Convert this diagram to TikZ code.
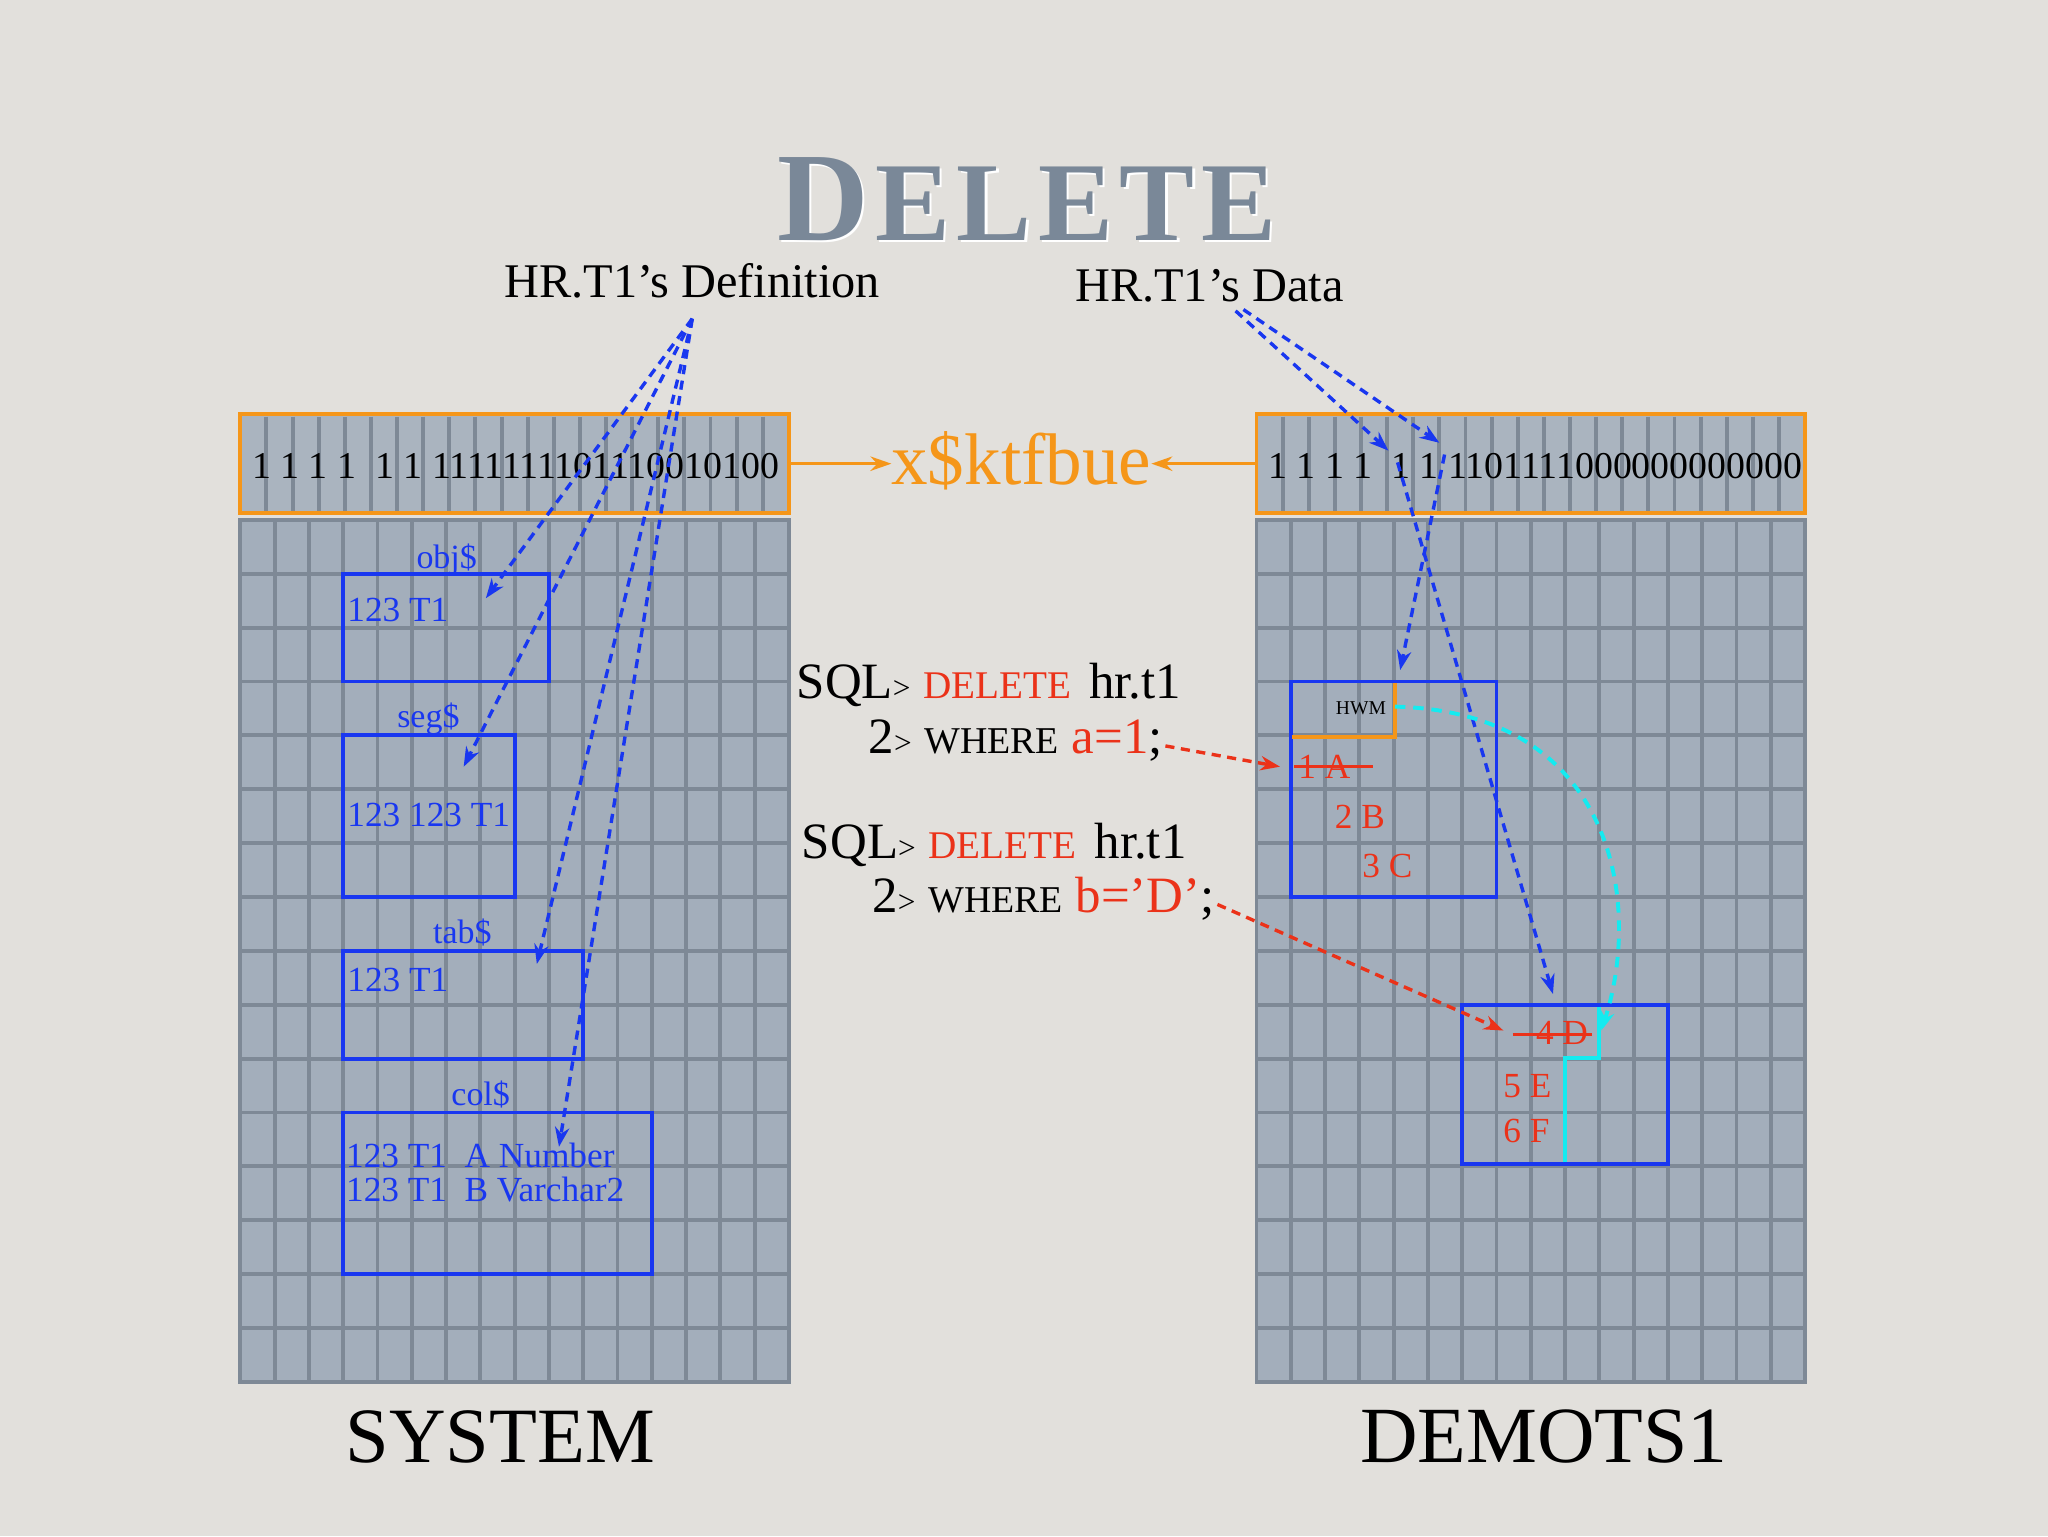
\documentclass[tikz,border=0pt]{standalone}
\usepackage{fontspec}
\setmainfont{Liberation Serif}
\usetikzlibrary{arrows.meta}
\definecolor{bg}{RGB}{226,224,220}
\definecolor{panel}{RGB}{163,174,187}
\definecolor{gridc}{RGB}{126,137,150}
\definecolor{stripc}{RGB}{170,180,191}
\definecolor{orng}{RGB}{245,150,25}
\definecolor{myblue}{RGB}{25,55,240}
\definecolor{myred}{RGB}{235,50,25}
\definecolor{mycyan}{RGB}{20,235,240}
\definecolor{titlec}{RGB}{122,136,152}
\newcommand\myfs[1]{\fontsize{#1}{#1}\selectfont}
\begin{document}
\begin{tikzpicture}[x=1pt,y=-1pt,
  every node/.style={inner sep=0pt,outer sep=0pt},
  gridln/.style={draw=gridc,line width=3pt},
  panelbox/.style={fill=panel,draw=gridc,line width=3pt,minimum width=420pt,minimum height=660pt},
  stripbox/.style={draw=orng,line width=3pt,minimum width=420pt,minimum height=76pt},
  bbox/.style={draw=myblue,line width=3pt},
  blab/.style={text=myblue,font=\myfs{26}},
  btxt/.style={text=myblue,font=\myfs{27}},
  rtxt/.style={text=myred,font=\myfs{27}},
  bits/.style={font=\myfs{29}},
  sqltxt/.style={font=\myfs{39}},
  bdash/.style={draw=myblue,line width=2.6pt,dash pattern=on 7pt off 5pt,-{Stealth[length=15pt,width=11pt]}},
  rdash/.style={draw=myred,line width=2.6pt,dash pattern=on 7pt off 5pt,-{Stealth[length=15pt,width=11pt]}},
  cdash/.style={draw=mycyan,line width=3pt,dash pattern=on 8pt off 6pt,-{Stealth[length=15pt,width=11pt]}},
  oarrow/.style={draw=orng,line width=2.5pt,-{Stealth[length=16pt,width=11pt]}},
]
% background
\fill[bg] (0,0) rectangle (1568,1176);
\useasboundingbox (0,0) rectangle (1568,1176);

% title
\node[anchor=base,text=white,font=\bfseries] (titlesh) at (788,186) {\myfs{97}D\kern5pt\myfs{86}E\kern5pt L\kern5pt E\kern5pt T\kern5pt E};
\node[anchor=base,text=titlec,font=\bfseries] (title) at (786,184) {\myfs{97}D\kern5pt\myfs{86}E\kern5pt L\kern5pt E\kern5pt T\kern5pt E};

% headings
\node[anchor=base,font=\myfs{37}] (defn) at (530,228) {HR.T1’s Definition};
\node[anchor=base,font=\myfs{37}] (data) at (926,231) {HR.T1’s Data};

% panels
\node[panelbox] (lpanel) at (394,728) {};
\node[panelbox] (rpanel) at (1172,728) {};
\foreach \i in {1,...,15}{
  \draw[gridln] ({184+26.25*\i},398) -- ({184+26.25*\i},1058);
  \draw[gridln] (184,{398+41.25*\i}) -- (604,{398+41.25*\i});
  \draw[gridln] ({962+26.25*\i},398) -- ({962+26.25*\i},1058);
  \draw[gridln] (962,{398+41.25*\i}) -- (1382,{398+41.25*\i});
}

% strips
\fill[stripc] (184,317) rectangle (604,393);
\fill[stripc] (962,317) rectangle (1382,393);
\foreach \i in {1,...,20}{
  \draw[gridln] ({184+20*\i},319) -- ({184+20*\i},391);
  \draw[gridln] ({962+20*\i},319) -- ({962+20*\i},391);
}
\node[stripbox] (lstrip) at (394,355) {};
\node[stripbox] (rstrip) at (1172,355) {};
\node[bits,anchor=base west] (lbits) at (193,366) {1 1 1 1 \ 1 1 1111111101110010100};
\node[bits,anchor=base west] (rbits) at (971,366) {1 1 1 1 \ 1 1 1101111000000000000};

% x$ktfbue
\node[anchor=base,text=orng,font=\myfs{56}] (ktf) at (782,371) {x\$ktfbue};
\draw[oarrow] (lstrip.east) -- (ktf.west |- lstrip.east);
\draw[oarrow] (rstrip.west) -- (ktf.east |- rstrip.west);

% SYSTEM boxes
\draw[bbox] (262.75,439.25) rectangle (420.25,521.75);
\draw[bbox] (262.75,563) rectangle (394,686.75);
\draw[bbox] (262.75,728) rectangle (446.5,810.5);
\draw[bbox] (262.75,851.75) rectangle (499,975.5);
\node[blab,anchor=base] (objl) at (342,435) {obj\$};
\node[blab,anchor=base] (segl) at (328,557) {seg\$};
\node[blab,anchor=base] (tabl) at (354,722) {tab\$};
\node[blab,anchor=base] (coll) at (368,846) {col\$};
\node[btxt,anchor=base west] (objt) at (266,476) {123 T1};
\node[btxt,anchor=base west] (segt) at (266,633) {123 123 T1};
\node[btxt,anchor=base west] (tabt) at (266,759) {123 T1};
\node[btxt,anchor=base west] (colt1) at (265,894) {123 T1 \ A Number};
\node[btxt,anchor=base west] (colt2) at (265,920) {123 T1 \ B Varchar2};

% DEMOTS1 boxes
\draw[bbox] (988.25,521.75) rectangle (1145.75,686.75);
\draw[bbox] (1119.5,769.25) rectangle (1277,891);
\draw[orng,line width=3pt] (989,564) -- (1068,564) -- (1068,523);
\node[anchor=base,font=\myfs{15}] (hwm) at (1042,547) {HWM};
\node[rtxt,anchor=base west] (r1) at (994,596) {1 A};
\draw[myred,line width=2pt] (991,587) -- (1051,587);
\node[rtxt,anchor=base west] (r2) at (1022,634) {2 B};
\node[rtxt,anchor=base west] (r3) at (1043,672) {3 C};
\node[rtxt,anchor=base west] (r4) at (1176,800) {4 D};
\draw[myred,line width=2pt] (1158,792) -- (1219,792);
\node[rtxt,anchor=base west] (r5) at (1151,840) {5 E};
\node[rtxt,anchor=base west] (r6) at (1151,875) {6 F};
\draw[mycyan,line width=3pt] (1198,890) -- (1198,810) -- (1224,810) -- (1224,771);

% SQL text
\node[sqltxt,anchor=base west] (sql1) at (610,535) {SQL{\myfs{24}>} \textcolor{myred}{\myfs{30}DELETE}\kern4pt\ hr.t1};
\node[sqltxt,anchor=base west] (sql2) at (665,577) {2{\myfs{24}>} {\myfs{29}WHERE} \textcolor{myred}{a=1};};
\node[sqltxt,anchor=base west] (sql3) at (614,657) {SQL{\myfs{24}>} \textcolor{myred}{\myfs{30}DELETE}\kern4pt\ hr.t1};
\node[sqltxt,anchor=base west] (sql4) at (668,699) {2{\myfs{24}>} {\myfs{29}WHERE} \textcolor{myred}{b=’D’};};

% bottom labels
\node[anchor=base,font=\myfs{60}] (sys) at (383,1120) {SYSTEM};
\node[anchor=base,font=\myfs{61}] (demo) at (1182,1120) {DEMOTS1};

% coordinates
\coordinate (dsrc) at (530,244);
\coordinate (objtip) at (372,458);
\coordinate (segtip) at (355,587);
\coordinate (tabtip) at (411,738);
\coordinate (coltip) at (428,878);
\coordinate (dasrc) at (946,238);
\coordinate (dasrc2) at (952,237);
\coordinate (bitA) at (1063,345);
\coordinate (bitB) at (1102,339);
\coordinate (bitAo) at (1070,354);
\coordinate (bitBo) at (1106,348);
\coordinate (ext1tip) at (1072,513);
\coordinate (ext2tip) at (1189,761);
\coordinate (hwmend) at (1068,541);
\coordinate (cyantip) at (1226,789);
\coordinate (redtip1) at (980,587);
\coordinate (redtip2) at (1151,789);

% arrows
\draw[bdash] (dsrc) -- (objtip);
\draw[bdash] (dsrc) -- (segtip);
\draw[bdash] (dsrc) -- (tabtip);
\draw[bdash] (dsrc) -- (coltip);
\draw[bdash] (dasrc) -- (bitA);
\draw[bdash] (dasrc2) -- (bitB);
\draw[bdash] (bitAo) -- (ext2tip);
\draw[bdash] (bitBo) -- (ext1tip);
\draw[cdash] (hwmend) .. controls (1235,545) and (1258,690) .. (cyantip);
\draw[rdash] ([xshift=2pt,yshift=-4pt]sql2.east) -- (redtip1);
\draw[rdash] ([xshift=2pt,yshift=-4pt]sql4.east) -- (redtip2);
\end{tikzpicture}
\end{document}
